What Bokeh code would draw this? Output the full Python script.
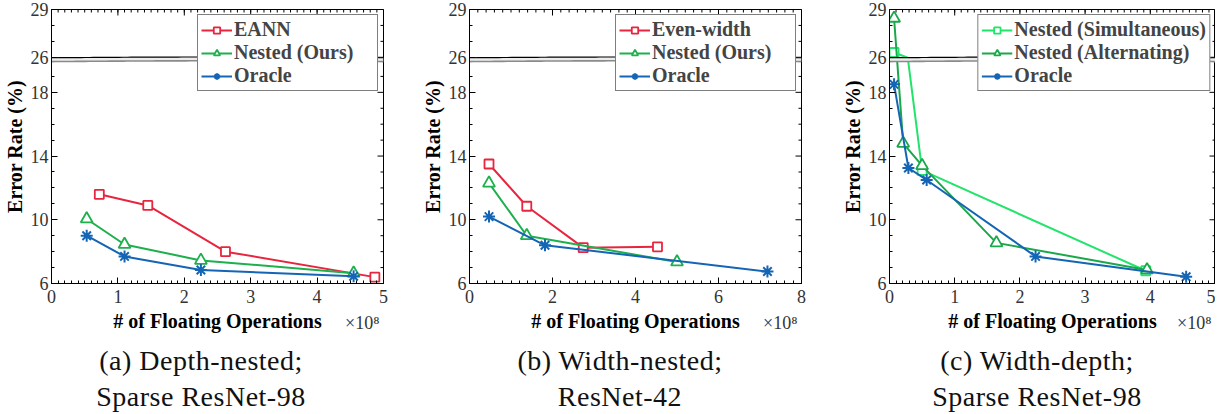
import numpy as np
from bokeh.plotting import figure
from bokeh.layouts import row, column
from bokeh.models import (FixedTicker, LinearAxis, Label, Legend, LegendItem,
                          Range1d, Div, Spacer)
from bokeh.embed import file_html
from bokeh.resources import INLINE

# ---------------- data (x in units of 1e8 FLOPs, y = error rate %) -------------
# (a) Depth-nested; Sparse ResNet-98
a_eann_x = [0.72, 1.45, 2.62, 4.87]
a_eann_y = [11.6, 10.9, 8.0, 6.4]
a_nested_x = [0.53, 1.10, 2.25, 4.55]
a_nested_y = [10.05, 8.45, 7.45, 6.65]
a_oracle_x = [0.53, 1.10, 2.25, 4.55]
a_oracle_y = [9.0, 7.7, 6.85, 6.45]

# (b) Width-nested; ResNet-42
b_even_x = [0.47, 1.38, 2.74, 4.53]
b_even_y = [13.5, 10.85, 8.25, 8.3]
b_nested_x = [0.47, 1.38, 5.0]
b_nested_y = [12.3, 9.0, 7.35]
b_oracle_x = [0.47, 1.82, 7.18]
b_oracle_y = [10.2, 8.4, 6.75]

# (c) Width-depth; Sparse ResNet-98
c_sim_x = [0.07, 0.28, 0.50, 3.93]
c_sim_y = [26.3, 25.0, 13.1, 6.8]
c_alt_x = [0.07, 0.21, 0.50, 1.64, 3.95]
c_alt_y = [28.45, 14.8, 13.4, 8.55, 6.85]
c_oracle_x = [0.07, 0.29, 0.57, 2.24, 4.55]
c_oracle_y = [18.5, 13.25, 12.5, 7.7, 6.42]

y_tick_labels = [6, 10, 14, 18, 26, 29]
y_minor_labels = [7, 8, 9, 11, 12, 13, 15, 16, 17, 19, 27, 28]

captions = [("(a) Depth-nested;", "Sparse ResNet-98"),
            ("(b) Width-nested;", "ResNet-42"),
            ("(c) Width-depth;", "Sparse ResNet-98")]
x_label = "# of Floating Operations"
y_label = "Error Rate (%)"
multiplier = "\u00d710\u2078"

# ---------------- broken y axis -----------------------------------------------
BRK_LO, BRK_HI = 20.0, 25.8
GAP = BRK_HI - BRK_LO


def brk(v):
    v = np.asarray(v, dtype=float)
    mid = BRK_LO + (v - BRK_LO) * 0.2 / GAP
    return np.where(v <= BRK_LO, v, np.where(v >= BRK_HI, v - GAP, mid))


def visible(v):
    v = np.asarray(v, dtype=float)
    return (v <= BRK_LO) | (v >= BRK_HI)


RED = "#E8253F"
GREEN = "#1DB04C"
LGREEN = "#22E46C"
DGREEN = "#1AA84A"
BLUE = "#1565B5"

SERIF = "Liberation Serif"
FRAME_H = 274


def style_axis(ax):
    ax.major_tick_in = 6
    ax.major_tick_out = 0
    ax.minor_tick_in = 3
    ax.minor_tick_out = 0
    ax.axis_line_color = "black"
    ax.major_tick_line_color = "black"
    ax.minor_tick_line_color = "black"
    ax.axis_label_text_font = SERIF
    ax.axis_label_text_font_style = "bold"
    ax.axis_label_text_font_size = "20px"
    ax.axis_label_text_color = "black"
    ax.major_label_text_font = SERIF
    ax.major_label_text_font_size = "18px"
    ax.major_label_text_color = "#333333"


def make_panel(series, xmax, xstep, frame_w, mbl, mbr, legend_margin):
    ytop = float(brk(29))
    p = figure(frame_width=frame_w, frame_height=FRAME_H,
               x_range=Range1d(0, xmax), y_range=Range1d(6, ytop),
               output_backend="svg", toolbar_location=None,
               min_border_left=mbl, min_border_right=mbr,
               min_border_top=9, min_border_bottom=58,
               x_axis_type=None, y_axis_type=None)
    p.grid.visible = False
    p.outline_line_color = "black"
    p.outline_line_width = 1
    p.background_fill_color = "white"
    p.border_fill_color = "white"

    ymaj = [float(t) for t in brk(y_tick_labels)]
    ymin = [float(t) for t in brk(y_minor_labels)]
    xmaj = [float(v) for v in np.arange(0, xmax + 1e-9, xstep)]
    xmin = [float(v) for v in np.arange(0, xmax + 1e-9, xstep / 10.0)]

    xax = LinearAxis(ticker=FixedTicker(ticks=xmaj, minor_ticks=xmin))
    style_axis(xax)
    xax.axis_label = x_label
    xax.major_label_standoff = 6
    xax.axis_label_standoff = 4
    p.add_layout(xax, "below")

    yax = LinearAxis(ticker=FixedTicker(ticks=ymaj, minor_ticks=ymin))
    style_axis(yax)
    yax.axis_label = y_label
    yax.major_label_standoff = 3
    yax.axis_label_standoff = 2
    yax.major_label_overrides = {t: str(l) for t, l in zip(ymaj, y_tick_labels)}
    p.add_layout(yax, "left")

    # mirrored inward ticks on the top and right edges (half clipped by frame)
    p.scatter(xmaj, [ytop] * len(xmaj), marker="dash", size=12, angle=np.pi / 2,
              line_color="black", line_width=1)
    p.scatter(xmin, [ytop] * len(xmin), marker="dash", size=6, angle=np.pi / 2,
              line_color="black", line_width=1)
    p.scatter([xmax] * len(ymaj), ymaj, marker="dash", size=12,
              line_color="black", line_width=1)
    p.scatter([xmax] * len(ymin), ymin, marker="dash", size=6,
              line_color="black", line_width=1)

    items = []
    for (name, xs, ys, color, marker, msize) in series:
        yt = brk(ys)
        ln = p.line(xs, yt, line_color=color, line_width=2)
        mask = visible(ys)
        xv = [float(v) for v in np.asarray(xs)[mask]]
        yv = [float(v) for v in yt[mask]]
        if marker == "asterisk":
            sc = p.scatter(xv, yv, marker=marker, size=12,
                           line_color=color, line_width=2)
        else:
            sc = p.scatter(xv, yv, marker=marker, size=msize,
                           line_color=color, line_width=1.8,
                           fill_color="white")
        items.append(LegendItem(label=name, renderers=[ln, sc]))

    # break band (drawn on top)
    xb = np.linspace(0, xmax, 80)
    wave = 0.05 * np.sin(np.pi * xb / xmax)
    top = 20.17 + wave
    bot = 19.93 + wave
    p.varea(x=xb, y1=bot, y2=top, fill_color="#ececec")
    p.line(xb, top, line_color="black", line_width=1.2)
    p.line(xb, bot, line_color="#8a8a8a", line_width=1.6)

    leg = Legend(items=items, location="top_right")
    leg.margin = legend_margin
    leg.border_line_color = "black"
    leg.border_line_width = 1
    leg.label_text_font = SERIF
    leg.label_text_font_style = "bold"
    leg.label_text_font_size = "20px"
    leg.label_standoff = 2
    leg.label_width = 140
    leg.glyph_width = 31
    leg.glyph_height = 16
    leg.label_height = 16
    leg.spacing = -1
    leg.padding = 3
    leg.background_fill_alpha = 1
    p.add_layout(leg, "center")

    # x10^8 multiplier, in a side panel below the axis
    p.add_layout(Label(x=frame_w - 4, y=32, x_units="screen", y_units="screen",
                       text=multiplier, text_font=SERIF, text_font_size="18px",
                       text_color="#333333", text_align="right",
                       text_baseline="middle"), "below")
    return p


pa = make_panel([
    ("EANN", a_eann_x, a_eann_y, RED, "square", 9),
    ("Nested (Ours)", a_nested_x, a_nested_y, GREEN, "triangle", 12),
    ("Oracle", a_oracle_x, a_oracle_y, BLUE, "asterisk", 12),
], 5, 1, 332, 48, 27, 5)

pb = make_panel([
    ("Even-width", b_even_x, b_even_y, RED, "square", 9),
    ("Nested (Ours)", b_nested_x, b_nested_y, GREEN, "triangle", 12),
    ("Oracle", b_oracle_x, b_oracle_y, BLUE, "asterisk", 12),
], 8, 2, 332, 59, 17, 5)

pc = make_panel([
    ("Nested (Simultaneous)", c_sim_x, c_sim_y, LGREEN, "square", 9),
    ("Nested (Alternating)", c_alt_x, c_alt_y, DGREEN, "triangle", 12),
    ("Oracle", c_oracle_x, c_oracle_y, BLUE, "asterisk", 12),
], 5, 1, 326, 71, 0, 5)

CAP_W = 300
cap_style = {"text-align": "center", "font-family": "'Liberation Serif'",
             "font-size": "28px", "line-height": "36px", "color": "#111111",
             "letter-spacing": "0.5px"}
cap_divs = [Div(text="%s<br>%s" % (c1, c2), width=CAP_W, height=72,
                styles=dict(cap_style)) for c1, c2 in captions]
cap_row = row(Spacer(width=46), cap_divs[0], Spacer(width=109), cap_divs[1],
              Spacer(width=107), cap_divs[2], spacing=0, margin=(-16, 0, 0, 0))

layout = column(row(pa, pb, pc, spacing=0), cap_row, spacing=0)
open("out.html", "w").write(file_html(layout, INLINE))
